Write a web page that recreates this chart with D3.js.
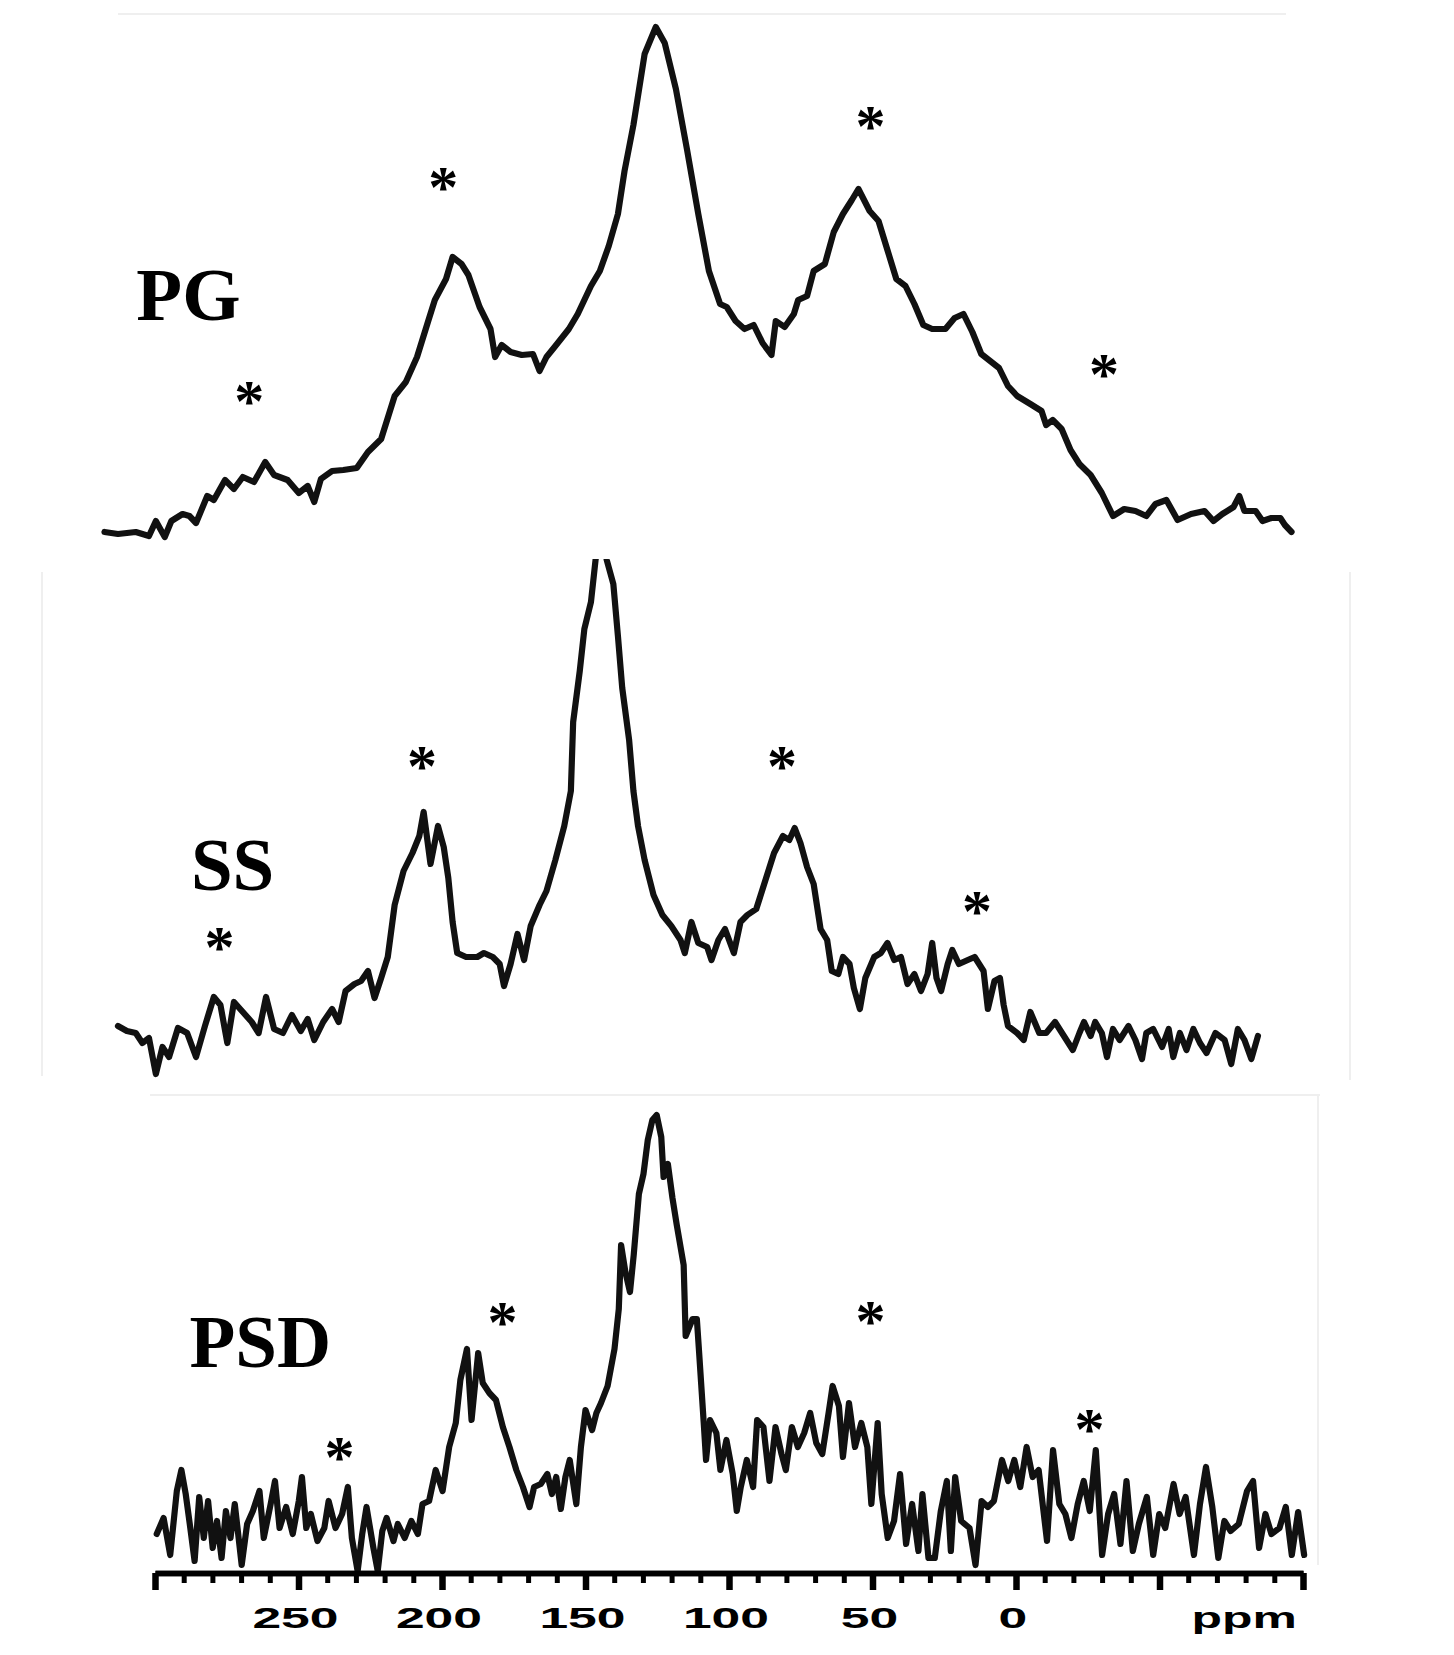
<!DOCTYPE html>
<html><head><meta charset="utf-8">
<script src="https://cdn.jsdelivr.net/npm/d3@7"></script>
<style>html,body{margin:0;padding:0;background:#fff;} svg{display:block;}</style>
</head><body>
<svg id="chart" width="1454" height="1655"></svg>
<script>
// ---------- DATA (chemical shift in ppm, intensity in arbitrary units) ----------
const pgShift = [317.6,312.9,306.7,302.1,299.7,296.6,294.3,290.4,288.0,285.7,
 281.8,279.5,275.6,272.5,269.4,265.5,261.6,258.5,253.8,249.9,
 246.8,244.5,242.2,238.3,234.4,229.7,225.8,221.2,216.5,212.6,
 208.7,204.8,202.5,198.6,196.3,193.2,190.8,186.9,183.1,181.5,
 179.2,176.1,172.2,168.3,166.0,163.6,160.5,155.8,152.7,148.1,
 145.0,141.9,138.7,136.4,133.3,129.4,125.5,122.4,118.5,114.6,
 110.7,107.0,103.1,100.8,97.7,94.6,91.4,88.3,85.2,83.7,
 80.6,77.4,75.9,72.8,70.5,66.6,63.5,60.3,57.2,54.9,
 51.0,47.9,44.8,41.7,38.5,35.4,32.3,29.2,24.6,21.4,
 18.3,15.2,12.1,9.0,5.9,2.8,-0.4,-5.0,-8.9,-10.5,
 -12.8,-15.9,-19.0,-22.1,-26.0,-29.9,-33.8,-37.7,-41.6,-45.4,
 -48.6,-52.4,-56.3,-61.0,-65.7,-68.8,-71.9,-75.8,-77.8,-79.6,
 -83.5,-85.9,-89.0,-92.1,-93.7,-96.0];
const pgIntensity = [13,11,13,9,24,8,24,31,29,22,
 49,45,65,56,68,63,83,70,65,52,
 59,43,66,74,75,77,93,106,149,163,
 188,224,245,266,288,281,270,238,216,188,
 200,193,190,191,174,188,199,216,231,259,
 274,299,331,374,420,491,518,502,456,395,
 331,274,241,238,224,216,220,202,190,224,
 218,231,245,249,274,281,313,331,345,356,
 334,324,295,266,259,241,220,216,216,227,
 231,213,191,184,177,159,149,141,134,120,
 125,116,95,81,70,52,29,36,34,29,
 41,45,25,31,34,24,31,38,49,34,
 34,24,27,27,20,13];

const ssShift = [312.9,309.8,306.7,304.4,302.1,299.7,297.4,295.1,292.0,288.8,
 285.7,282.6,279.5,277.2,274.8,272.5,269.4,266.3,263.9,261.3,
 258.5,255.4,252.3,249.2,246.8,244.5,241.4,238.3,236.0,233.6,
 230.5,228.2,225.8,223.5,221.2,218.9,216.5,213.4,210.3,207.9,
 206.4,204.0,201.4,199.4,197.8,196.3,194.7,191.6,187.7,185.4,
 182.3,179.9,178.4,176.1,173.7,171.4,169.1,166.0,163.6,160.5,
 157.4,155.1,154.3,152.0,150.4,148.1,146.5,144.6,142.6,140.3,
 138.7,137.2,134.8,133.3,131.7,129.4,126.3,123.2,120.1,116.9,
 115.4,113.1,110.7,107.6,106.1,103.7,101.4,98.3,96.0,93.6,
 90.5,87.4,84.3,81.2,79.0,77.1,75.1,72.8,70.5,68.1,
 65.8,64.2,61.9,60.3,58.0,56.5,54.4,52.5,49.4,47.1,
 44.8,42.4,40.1,37.8,35.4,33.1,30.8,29.2,27.7,26.1,
 23.8,22.2,19.9,16.8,14.4,11.3,9.8,7.5,5.6,4.3,
 2.8,-0.4,-2.7,-5.0,-8.1,-10.5,-13.6,-16.7,-19.8,-22.1,
 -23.7,-26.0,-27.6,-29.9,-31.7,-33.8,-36.1,-39.2,-41.6,-43.9,
 -45.4,-47.8,-50.9,-53.2,-54.8,-57.1,-59.4,-61.8,-64.1,-66.4,
 -69.5,-72.7,-75.0,-77.3,-79.6,-82.0,-84.3];
const ssIntensity = [54,49,47,37,42,6,33,23,52,47,
 23,54,83,75,37,78,68,58,47,83,
 51,47,65,49,61,40,58,71,58,89,
 96,99,109,82,102,123,175,209,227,244,
 268,216,254,233,202,158,127,123,123,127,
 123,116,94,116,146,120,154,175,189,220,
 254,289,358,409,451,478,520,560,520,496,
 444,392,340,289,254,220,185,165,154,140,
 127,158,137,133,120,140,151,127,158,165,
 171,199,227,244,240,252,237,213,196,151,
 140,109,106,123,116,92,71,102,123,127,
 137,120,123,96,106,89,106,137,102,89,
 116,130,116,120,123,109,71,99,102,75,
 54,47,40,68,47,47,58,44,30,47,
 58,44,58,47,23,51,40,54,40,21,
 47,51,33,51,23,47,30,51,37,27,
 47,40,16,51,40,21,44];

const psdShift = [299.4,297.0,294.7,292.4,290.8,289.3,287.7,286.2,284.6,283.0,
 281.5,279.9,278.4,276.8,275.3,273.7,272.2,269.8,267.9,265.9,
 263.6,262.1,259.7,258.2,256.6,254.3,252.0,249.9,248.8,247.3,
 245.7,243.4,241.0,239.5,237.1,234.8,232.8,231.4,229.4,227.8,
 226.3,223.9,222.4,220.8,219.3,216.9,215.4,213.0,210.7,208.4,
 206.8,204.5,202.2,199.8,197.5,195.2,193.6,191.3,189.7,187.4,
 185.8,183.5,181.2,178.8,176.5,174.1,171.8,169.5,167.9,165.6,
 163.3,161.7,160.2,158.6,157.0,155.5,153.2,151.6,150.0,147.7,
 146.2,144.6,142.3,139.9,138.4,137.6,136.1,134.5,133.2,131.4,
 129.8,128.3,126.7,125.2,123.6,122.8,121.3,119.7,118.2,115.8,
 115.1,112.7,111.2,110.4,108.8,108.0,106.6,104.4,103.0,100.9,
 98.7,97.3,95.9,93.8,91.6,90.2,88.0,85.9,83.8,81.7,
 80.2,78.1,76.0,73.8,71.7,69.6,67.5,65.3,63.9,61.7,
 60.3,58.2,56.1,53.9,51.8,50.4,48.2,46.8,44.7,42.5,
 40.4,38.3,36.2,34.0,32.6,30.5,28.3,26.2,24.1,22.7,
 21.2,19.1,16.2,14.1,12.0,9.8,7.7,4.9,2.7,0.6,
 -1.5,-3.7,-5.8,-7.9,-10.8,-12.9,-15.1,-17.2,-19.3,-21.5,
 -23.6,-25.7,-27.8,-30.0,-32.1,-34.2,-36.4,-38.5,-40.7,-42.8,
 -45.6,-47.8,-49.9,-52.0,-54.9,-57.0,-59.1,-62.0,-64.1,-66.2,
 -68.4,-70.5,-72.6,-74.8,-77.6,-80.5,-82.6,-84.7,-86.9,-89.0,
 -91.8,-94.0,-96.1,-98.3,-100.4];
const psdIntensity = [41,57,20,84,105,81,47,14,78,37,
 74,27,54,17,64,37,71,10,51,64,
 84,37,71,94,47,68,41,74,98,47,
 61,34,47,74,47,61,88,37,4,41,
 68,27,4,44,57,34,51,37,54,41,
 71,74,105,84,128,152,195,226,155,222,
 192,182,175,148,128,105,88,68,88,91,
 101,81,98,66,98,115,71,128,165,145,
 162,172,189,226,266,330,303,283,320,381,
 401,435,455,460,438,398,411,377,350,310,
 239,256,256,222,152,115,155,142,105,135,
 101,64,88,115,88,155,148,94,148,121,
 105,148,128,142,162,132,121,162,189,169,
 118,172,128,152,128,71,152,81,37,54,
 101,31,71,24,81,17,17,64,94,24,
 98,54,47,10,74,68,74,115,94,115,
 88,128,98,105,34,125,71,61,37,71,
 94,64,125,20,61,81,31,94,24,51,
 78,20,61,47,91,61,78,20,71,108,
 68,17,54,44,51,84,94,27,61,41,
 47,68,20,63,20];

// spinning side-band markers (*) : shift, intensity
const pgStarShift = [267.2, 199.6, 50.7, -30.7];
const pgStarIntensity = [152, 366, 427, 179];
const ssStarShift = [277.5, 207.0, 81.5, 13.6];
const ssStarIntensity = [141, 322, 322, 177];
const psdStarShift = [235.7, 178.9, 50.7, -25.6];
const psdStarIntensity = [126, 261, 262, 154];

const sampleNames = ["PG", "SS", "PSD"];
const majorTicks = [300, 250, 200, 150, 100, 50, 0, -50, -100];
const labelledTicks = [250, 200, 150, 100, 50, 0];
const axisUnit = "ppm";

// ---------- LAYOUT ----------
const svg = d3.select('#chart');
const x = d3.scaleLinear().domain([300, -100]).range([155, 1303]);
const panels = [
  {name: sampleNames[0], shift: pgShift, inten: pgIntensity, sx: pgStarShift, si: pgStarIntensity,
   y: d3.scaleLinear().domain([0, 520]).range([545, 25]), labelShift: 306.5, labelInt: 225, clipTop: 0},
  {name: sampleNames[1], shift: ssShift, inten: ssIntensity, sx: ssStarShift, si: ssStarIntensity,
   y: d3.scaleLinear().domain([0, 520]).range([1080, 560]), labelShift: 287.5, labelInt: 190, clipTop: 559},
  {name: sampleNames[2], shift: psdShift, inten: psdIntensity, sx: psdStarShift, si: psdStarIntensity,
   y: d3.scaleLinear().domain([0, 460]).range([1575, 1115]), labelShift: 288, labelInt: 208, clipTop: 1090}
];

// faint panel-edge remnants of the original composite
const faint = svg.append('g').attr('stroke', '#efefef').attr('stroke-width', 2).attr('fill', 'none');
faint.append('line').attr('x1', 118).attr('x2', 1286).attr('y1', 14).attr('y2', 14);
faint.append('line').attr('x1', 42).attr('x2', 42).attr('y1', 572).attr('y2', 1076);
faint.append('line').attr('x1', 1350).attr('x2', 1350).attr('y1', 572).attr('y2', 1080);
faint.append('line').attr('x1', 150).attr('x2', 1320).attr('y1', 1095).attr('y2', 1095);
faint.append('line').attr('x1', 1318).attr('x2', 1318).attr('y1', 1095).attr('y2', 1565);

panels.forEach((p, i) => {
  const clipId = 'clip' + i;
  svg.append('clipPath').attr('id', clipId)
    .append('rect').attr('x', 0).attr('y', p.clipTop).attr('width', 1454).attr('height', 1655 - p.clipTop);
  const pts = d3.zip(p.shift, p.inten);
  const line = d3.line().x(d => x(d[0])).y(d => p.y(d[1]));
  svg.append('path').datum(pts)
    .attr('d', line)
    .attr('clip-path', `url(#${clipId})`)
    .attr('fill', 'none')
    .attr('stroke', '#111')
    .attr('stroke-width', 6.2)
    .attr('stroke-linejoin', 'round')
    .attr('stroke-linecap', 'round');

  const fs = 60;
  svg.append('g').selectAll('text').data(d3.zip(p.sx, p.si)).join('text')
    .attr('x', d => x(d[0]))
    .attr('y', d => p.y(d[1]) + 0.47 * fs)
    .attr('text-anchor', 'middle')
    .attr('font-family', '"Liberation Serif", "Times New Roman", serif')
    .attr('font-weight', 'bold')
    .attr('font-size', fs)
    .attr('fill', '#000')
    .text('*');

  svg.append('text')
    .attr('x', x(p.labelShift))
    .attr('y', p.y(p.labelInt))
    .attr('font-family', '"Liberation Serif", "Times New Roman", serif')
    .attr('font-weight', 'bold')
    .attr('font-size', 75)
    .attr('fill', '#000')
    .text(p.name);
});

// ---------- AXIS ----------
const axisY = 1573;
const minorTicks = d3.range(-100, 301, 10).filter(v => !majorTicks.includes(v));
const gMinor = svg.append('g').attr('transform', `translate(0,${axisY})`)
  .call(d3.axisBottom(x).tickValues(minorTicks).tickSize(10).tickSizeOuter(0).tickFormat(''));
gMinor.selectAll('.tick line').attr('stroke', '#000').attr('stroke-width', 5);
gMinor.select('.domain').attr('stroke', '#000').attr('stroke-width', 5.4);

const gMajor = svg.append('g').attr('transform', `translate(0,${axisY})`)
  .call(d3.axisBottom(x).tickValues(majorTicks).tickSize(17).tickSizeOuter(0)
    .tickFormat(d => labelledTicks.includes(d) ? d : ''));
gMajor.select('.domain').attr('stroke', '#000').attr('stroke-width', 5.4);
gMajor.selectAll('.tick line').attr('stroke', '#000').attr('stroke-width', 6.5);
gMajor.selectAll('.tick text')
  .attr('x', -2)
  .attr('y', 55).attr('dy', 0)
  .attr('fill', '#000')
  .attr('font-family', '"Liberation Sans", Arial, Helvetica, sans-serif')
  .attr('font-weight', 'bold')
  .attr('font-size', 29)
  .attr('transform', 'scale(1.78,1)');

svg.append('text')
  .attr('transform', `translate(${x(-79.5)},${axisY + 55}) scale(1.72,1)`)
  .attr('text-anchor', 'middle')
  .attr('font-family', '"Liberation Sans", Arial, Helvetica, sans-serif')
  .attr('font-weight', 'bold')
  .attr('font-size', 29)
  .attr('fill', '#000')
  .text(axisUnit);
</script>
</body></html>
